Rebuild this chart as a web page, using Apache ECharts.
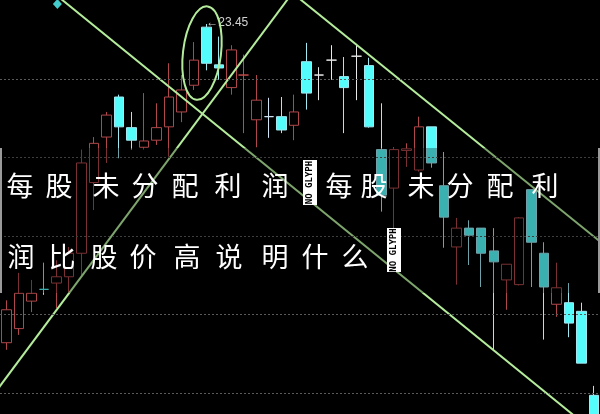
<!DOCTYPE html>
<html><head><meta charset="utf-8">
<script src="https://cdn.jsdelivr.net/npm/echarts@6/dist/echarts.min.js"></script>
<style>html,body{margin:0;padding:0;background:#000;}#c{width:600px;height:414px;}</style>
</head><body><div id="c"></div>
<script>
// ---- data ----
const categories = ['K01','K02','K03','K04','K05','K06','K07','K08','K09','K10','K11','K12','K13','K14','K15','K16',
  'K17','K18','K19','K20','K21','K22','K23','K24','K25','K26','K27','K28','K29','K30','K31','K32',
  'K33','K34','K35','K36','K37','K38','K39','K40','K41','K42','K43','K44','K45','K46','K47','K48'];
const openP  = [19.39,19.57,19.92,20.07,20.15,20.23,20.53,21.43,22.01,22.52,22.13,21.88,21.97,22.14,22.33,22.67,
  23.41,22.93,22.64,22.80,22.23,22.27,22.27,22.16,22.97,22.80,22.99,22.78,23.04,22.92,21.85,21.36,
  21.84,21.59,22.14,21.39,20.61,20.85,20.85,20.56,20.19,20.13,21.34,20.53,19.88,19.90,19.79,18.72];
const closeP = [19.81,20.02,20.02,20.07,20.23,20.53,21.68,21.93,22.29,22.14,21.97,21.96,22.13,22.52,22.61,22.99,
  22.95,22.89,23.12,22.80,22.48,22.27,22.10,22.33,22.57,22.80,22.99,22.64,23.04,22.14,21.27,21.85,
  21.86,22.14,21.68,20.99,20.85,20.76,20.53,20.42,20.39,20.98,20.67,20.10,20.09,19.64,19.13,18.28];
const lowP   = [19.30,19.49,19.78,20.00,19.83,20.02,20.25,21.08,21.68,21.74,21.85,21.85,21.91,21.76,22.20,22.61,
  22.86,22.74,22.55,22.06,21.88,22.00,22.06,21.97,22.36,22.48,22.74,22.06,22.48,22.13,21.06,20.85,
  21.63,21.57,21.62,20.60,20.13,20.38,20.10,19.30,19.81,20.12,20.10,19.43,19.72,19.46,19.13,18.28];
const highP  = [19.93,20.28,20.19,20.41,20.44,20.61,21.85,22.01,22.33,22.55,22.33,22.57,22.44,22.95,22.80,23.22,
  23.45,23.29,23.18,23.06,22.80,22.51,22.52,22.55,23.21,22.90,23.18,23.03,23.18,23.02,22.44,21.88,
  21.93,22.27,22.14,21.82,20.98,20.95,20.85,20.85,20.39,20.99,21.34,20.67,20.41,20.15,19.90,18.84];
const levelLines = [22.75, 21.75, 20.75, 19.75, 18.75];
const trendA = [[3.99, 23.82], [45.75, 18.42]];
const trendB = [[-0.82, 18.77], [22.77, 23.82]];
const trendC = [[23.17, 23.81], [48.27, 20.58]];
const markerPoint = [[4.09, 23.705]];
const ellipseCenter = [15.66, 23.08];
const titleLine1 = ['每','股','未','分','配','利','润',null,'每','股','未','分','配','利'];
const titleLine2 = ['润','比','股','价','高','说','明','什','么',null];

// ---- styles ----
const crossColors = {3:'#54fcfc', 19:'#c04a4a', 21:'#cfe4f4', 25:'#e8e8e8', 26:'#e8e8e8', 28:'#e8e8e8'};
const line1X = [20,59,106,145,185,228,275,310,339,374,421,460,500,545];
const line2X = [21,62,104,143,187,229,275,315,355,394];
const RED = '#b0474a', CYAN = '#54fcfc', CYAN_WICK = '#a0e8f2', GREEN = '#b4ec9c';

const candleData = categories.map((c, i) => {
  const d = { value: [openP[i], closeP[i], lowP[i], highP[i]] };
  if (crossColors[i]) d.itemStyle = { borderColor: crossColors[i], borderColor0: crossColors[i], borderColorDoji: crossColors[i] };
  return d;
});

const chart = echarts.init(document.getElementById('c'), null, { renderer: 'canvas' });

function charGraphics(chars, xs, cy, boxTop, boxH) {
  const out = [];
  chars.forEach((ch, i) => {
    if (ch === null) {
      out.push({ type: 'group', x: xs[i], y: boxTop + boxH / 2, z: 120, children: [
        { type: 'rect', z: 120, shape: { x: -7, y: -boxH / 2, width: 14, height: boxH }, style: { fill: '#fff' } },
        { type: 'text', z: 121, rotation: Math.PI / 2, style: { text: 'NO GLYPH', fill: '#000',
          font: 'bold 9px "DejaVu Sans Mono"', align: 'center', verticalAlign: 'middle' } }
      ]});
    } else {
      out.push({ type: 'text', x: xs[i], y: cy, z: 120, style: { text: ch, fill: '#fff',
        font: '27px "Noto Sans CJK SC"', align: 'center', verticalAlign: 'middle' } });
    }
  });
  return out;
}

const option = {
  backgroundColor: '#000',
  animation: false,
  grid: { left: -6, top: 0, width: 606, bottom: 0 },
  xAxis: [
    { type: 'category', data: categories, show: false, boundaryGap: true },
    { type: 'value', min: -0.5, max: 47.5, show: false }
  ],
  yAxis: { type: 'value', min: 18.482, max: 23.756, show: false, splitLine: { show: false } },
  series: [
    {
      type: 'candlestick', data: candleData, barWidth: 10, clip: true,
      itemStyle: { color: '#000', color0: CYAN, borderColor: RED, borderColor0: CYAN_WICK, borderWidth: 1 },
      markLine: {
        silent: true, symbol: 'none', label: { show: false },
        lineStyle: { color: '#5a5a5a', type: [2, 2], width: 1 },
        data: levelLines.map(v => ({ yAxis: v }))
      },
      markPoint: {
        symbol: 'circle', symbolSize: 0,
        data: [{ type: 'max', valueDim: 'highest' }],
        label: { show: true, position: 'right', distance: 0, offset: [0, -1], color: '#d2d2d2',
          fontSize: 12, fontFamily: 'Liberation Sans', formatter: p => '←' + Number(p.value).toFixed(2) }
      }
    },
    { type: 'line', xAxisIndex: 1, data: trendA, symbol: 'none', lineStyle: { color: GREEN, width: 2 } },
    { type: 'line', xAxisIndex: 1, data: trendB, symbol: 'none', lineStyle: { color: GREEN, width: 2 } },
    { type: 'line', xAxisIndex: 1, data: trendC, symbol: 'none', lineStyle: { color: GREEN, width: 2 } },
    { type: 'scatter', xAxisIndex: 1, data: markerPoint, symbol: 'diamond', symbolSize: [9, 10], itemStyle: { color: CYAN } }
  ]
};
chart.setOption(option);

const ec = chart.convertToPixel({ xAxisIndex: 1, yAxisIndex: 0 }, ellipseCenter);
chart.setOption({
  graphic: [
    { type: 'ellipse', z: 90, x: ec[0], y: ec[1], rotation: -0.12, shape: { cx: 0, cy: 0, rx: 19, ry: 47 },
      style: { fill: 'none', stroke: GREEN, lineWidth: 2 } },
    { type: 'rect', z: 100, shape: { x: 0, y: 148, width: 600, height: 145 }, style: { fill: 'rgba(0,0,0,0.3)' } },
    { type: 'rect', z: 101, shape: { x: 0, y: 148, width: 2, height: 145 }, style: { fill: '#9a9a9a' } },
    { type: 'rect', z: 101, shape: { x: 598, y: 148, width: 2, height: 145 }, style: { fill: '#9a9a9a' } }
  ].concat(charGraphics(titleLine1, line1X, 186, 160, 45))
   .concat(charGraphics(titleLine2, line2X, 257, 228, 44))
});
</script></body></html>
